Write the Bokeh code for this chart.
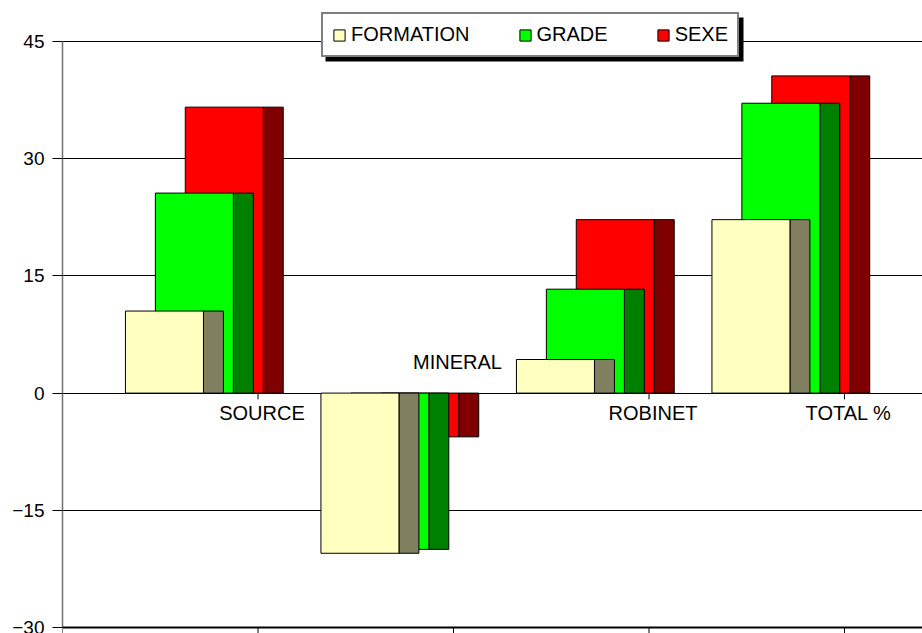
from bokeh.plotting import figure
from bokeh.models import Legend, LegendItem, FixedTicker, Range1d, ColumnDataSource, BoxAnnotation, Span
from bokeh.core.properties import value
from bokeh.embed import file_html
from bokeh.resources import INLINE

# ---- data ----
categories = ["SOURCE", "MINERAL", "ROBINET", "TOTAL %"]
series_names = ["FORMATION", "GRADE", "SEXE"]
formation = [10.5, -20.5, 4.3, 22.2]
grade = [25.6, -20.0, 13.3, 37.1]
sexe = [36.6, -5.6, 22.2, 40.6]
y_ticks = [-30, -15, 0, 15, 30, 45]

# ---- style ----
front_colors = ["#FFFFC0", "#00FF00", "#FF0000"]
side_colors = ["#808060", "#008000", "#800000"]
FONT = "Liberation Sans"

# geometry (category units)
first_left = 0.322
series_shift = 0.153
front_w = 0.399
side_w = 0.102
x_end = 860 / 195.5

# vertical scale: 75 units over 586 px, with room above/below for legend and floor ticks
y_lo, y_hi = y_ticks[0], y_ticks[-1]
ppu = 586 / (y_hi - y_lo)
y_start = y_lo - 6 / ppu
y_end = y_hi + 41 / ppu

p = figure(width=922, height=633, output_backend="svg", toolbar_location=None,
           x_range=Range1d(0, x_end), y_range=Range1d(y_start, y_end),
           min_border_left=62, min_border_top=0, min_border_right=0, min_border_bottom=0)
p.outline_line_color = None
p.background_fill_color = "white"
p.border_fill_color = "white"
p.xaxis.visible = False

# y axis
p.yaxis.ticker = FixedTicker(ticks=y_ticks)
p.yaxis.bounds = (y_lo, y_hi)
p.yaxis.major_label_text_font = FONT
p.yaxis.major_label_text_font_size = "19px"
p.yaxis.major_label_text_color = "black"
p.yaxis.major_tick_out = 10
p.yaxis.major_tick_in = 0
p.yaxis.major_tick_line_color = "black"
p.yaxis.minor_tick_line_color = None
p.yaxis.axis_line_color = "#707070"
p.yaxis.axis_line_width = 1.5
p.yaxis.major_label_standoff = 8

p.xgrid.grid_line_color = None
p.ygrid.ticker = FixedTicker(ticks=y_ticks)
p.ygrid.grid_line_color = "black"
p.ygrid.grid_line_width = 1

# floor edge with ticks at the category boundaries
p.add_layout(Span(location=y_lo, dimension="width", line_color="black", line_width=2))
floor_x = list(range(len(categories) + 1))
p.segment(x0=floor_x, y0=[y_lo] * len(floor_x), x1=floor_x, y1=[y_start] * len(floor_x),
          line_color="black", line_width=1)

# category ticks on the zero line
tick_x = [i + 1 for i in range(len(categories))]
p.segment(x0=tick_x, y0=[0] * len(tick_x), x1=tick_x, y1=[-0.8] * len(tick_x),
          line_color="black", line_width=1)

# bars: back series first
values = [formation, grade, sexe]
front_renderers = {}
for j in reversed(range(len(series_names))):
    vals = values[j]
    left = [k + first_left + series_shift * j for k in range(len(categories))]
    right = [l + front_w for l in left]
    side_r = [r + side_w for r in right]
    bottom = [min(v, 0) for v in vals]
    top = [max(v, 0) for v in vals]
    p.quad(left=right, right=side_r, bottom=bottom, top=top,
           fill_color=side_colors[j], line_color="black", line_width=1)
    front_renderers[j] = p.quad(left=left, right=right, bottom=bottom, top=top,
                                fill_color=front_colors[j], line_color="black", line_width=1)

# category labels (above the zero line when the whole group is negative)
above = [all(v[k] < 0 for v in values) for k in range(len(categories))]
lab_src = ColumnDataSource(dict(
    x=tick_x,
    y=[0] * len(tick_x),
    text=categories,
    yoff=[-20 if a else 9 for a in above],
    base=["bottom" if a else "top" for a in above],
))
p.text(x="x", y="y", text="text", source=lab_src, x_offset=4, y_offset="yoff",
       text_baseline="base", text_align="center",
       text_font=value(FONT), text_font_size="20px", text_color="black")

# legend shadow (canvas pixels)
shadow = BoxAnnotation(left=325, right=743, top=17, bottom=61,
                       left_units="canvas", right_units="canvas",
                       top_units="canvas", bottom_units="canvas",
                       fill_color="black", fill_alpha=1.0, line_color=None)
p.add_layout(shadow)

legend = Legend(items=[LegendItem(label=n, renderers=[front_renderers[j]])
                       for j, n in enumerate(series_names)],
                location=(259, 576), orientation="horizontal", margin=0,
                padding=9, spacing=48, glyph_width=14, glyph_height=14,
                label_standoff=5, label_text_font=FONT, label_text_font_size="20px",
                label_text_color="black", border_line_width=2,
                border_line_color="black", background_fill_color="white",
                background_fill_alpha=1.0)
p.add_layout(legend, "center")

open("out.html", "w").write(file_html(p, INLINE))
